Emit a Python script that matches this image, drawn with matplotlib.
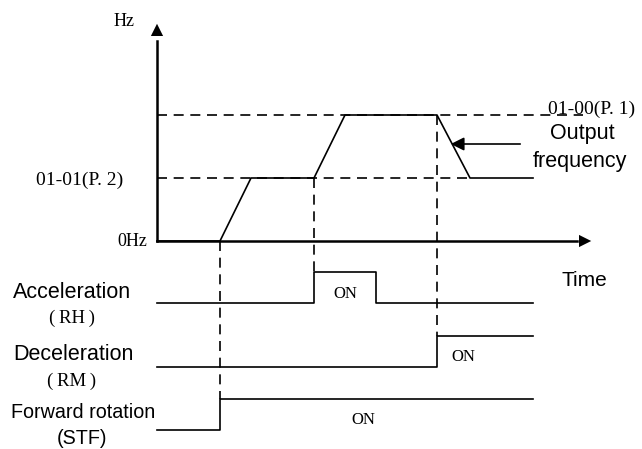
import matplotlib.pyplot as plt
from matplotlib.patches import FancyArrowPatch

# time points along the time axis and output frequency levels
f_p2 = 63   # 01-01 (P.2)
f_p1 = 126  # 01-00 (P.1)
t_end = 376
freq_t = [0, 63, 94, 157, 188, 280, 313, t_end]
freq_v = [0, 0, f_p2, f_p2, f_p1, f_p1, f_p2, f_p2]

# digital signals: on / off times
acc_on, acc_off = 157, 219
dec_on = 280
stf_on = 63

# row baselines and step height for the signal traces
acc_base, dec_base, stf_base = -62, -126, -189
step = 31

serif = ['Liberation Serif', 'DejaVu Serif']
sans = ['Liberation Sans', 'DejaVu Sans']

fig = plt.figure(figsize=(6.42, 4.49), dpi=100)
ax = fig.add_axes([0, 0, 1, 1])
ax.set_xlim(-157, 485)
ax.set_ylim(241 - 449, 241)
ax.axis('off')

lw = 1.2
dash = (0, (6, 4))

# axes with arrow heads
ax.plot([0, 0], [0, 200], color='black', lw=1.8)
ax.add_patch(FancyArrowPatch((0, 195), (0, 220), arrowstyle='-|>', mutation_scale=22, color='black', lw=0))
ax.plot([0, 420], [0, 0], color='black', lw=1.8)
ax.add_patch(FancyArrowPatch((414, 0), (437, 0), arrowstyle='-|>', mutation_scale=22, color='black', lw=0))

# reference frequency levels
ax.plot([0, 426], [f_p1, f_p1], color='black', lw=lw, linestyle=dash)
ax.plot([0, 313], [f_p2, f_p2], color='black', lw=lw, linestyle=dash)

# output frequency
ax.plot(freq_t, freq_v, color='black', lw=lw)

# dashed event markers
ax.plot([stf_on, stf_on], [0, stf_base + step], color='black', lw=lw, linestyle=dash)
ax.plot([acc_on, acc_on], [f_p2, acc_base + step], color='black', lw=lw, linestyle=dash)
ax.plot([dec_on, dec_on], [f_p1, dec_base + step], color='black', lw=lw, linestyle=dash)

# signal traces
ax.plot([0, acc_on, acc_on, acc_off, acc_off, t_end],
        [acc_base, acc_base, acc_base + step, acc_base + step, acc_base, acc_base], color='black', lw=lw)
ax.plot([0, dec_on, dec_on, t_end],
        [dec_base, dec_base, dec_base + step, dec_base + step], color='black', lw=lw)
ax.plot([0, stf_on, stf_on, t_end],
        [stf_base, stf_base, stf_base + step, stf_base + step], color='black', lw=lw)

# output frequency pointer
ax.add_patch(FancyArrowPatch((366, 97), (291, 97), arrowstyle='-|>', mutation_scale=20, color='black', lw=lw))

# labels
ax.text(-33, 219, 'Hz', family=serif, fontsize=13, ha='center', va='center')
ax.text(-34, 61, '01-01(P. 2)', family=serif, fontsize=14, ha='right', va='center')
ax.text(-10, 0, '0Hz', family=serif, fontsize=13, ha='right', va='center')
ax.text(435, 132, '01-00(P. 1)', family=serif, fontsize=14, ha='center', va='center')
ax.text(425, 108, 'Output', family=sans, fontsize=15.5, ha='center', va='center')
ax.text(423, 79, 'frequency', family=sans, fontsize=15.5, ha='center', va='center')
ax.text(427, -40, 'Time', family=sans, fontsize=15, ha='center', va='center')

ax.text(-85, -51, 'Acceleration', family=sans, fontsize=15.5, ha='center', va='center')
ax.text(-85, -77, '(\u2009RH\u2009)', family=serif, fontsize=13.5, ha='center', va='center')
ax.text(-84, -114, 'Deceleration', family=sans, fontsize=15.5, ha='center', va='center')
ax.text(-85, -140, '(\u2009RM\u2009)', family=serif, fontsize=13.5, ha='center', va='center')
ax.text(-74, -172, 'Forward rotation', family=sans, fontsize=14.2, ha='center', va='center')
ax.text(-75, -197, '(STF)', family=sans, fontsize=14.2, ha='center', va='center')

ax.text(188, -53, 'ON', family=serif, fontsize=12, ha='center', va='center')
ax.text(306, -116, 'ON', family=serif, fontsize=12, ha='center', va='center')
ax.text(206, -179, 'ON', family=serif, fontsize=12, ha='center', va='center')

fig.savefig('out.png', dpi=100)
